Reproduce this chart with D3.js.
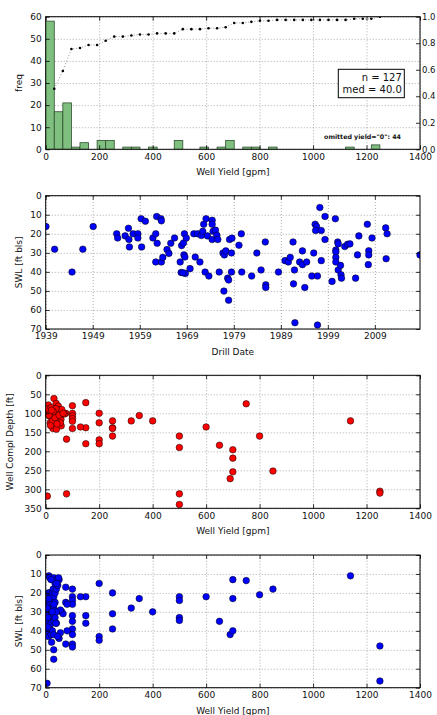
<!DOCTYPE html>
<html><head><meta charset="utf-8">
<script src="https://cdn.jsdelivr.net/npm/d3@7"></script>
<style>body{margin:0;background:#fff} text{font-family:"DejaVu Sans",sans-serif}</style>
</head><body><svg id="c" width="437" height="715"></svg>
<script>
// ---------- DATA ----------
const histCounts = [58,17,21,1,3,0,4,4,0,1,1,0,1,0,0,4,0,0,1,0,1,4,0,1,1,0,1,0,0,0,0,0,0,0,0,1,0,0,2];
const histRange = [0, 1250];
const cdfValues = [0.457,0.591,0.756,0.764,0.787,0.787,0.819,0.850,0.850,0.858,0.866,0.866,0.874,0.874,0.874,0.906,0.906,0.906,0.913,0.913,0.921,0.953,0.953,0.961,0.969,0.969,0.976,0.976,0.976,0.976,0.976,0.976,0.976,0.976,0.976,0.984,0.984,0.984,1.0];
const nWells = 127, medYield = "40.0", omittedZero = 44;

const drillYear = [1939.05,1940.9,1944.6,1946.9,1949.1,1954.1,1954.3,1955.9,1956.6,1956.7,1956.8,1957.6,1958.6,1958.6,1959.3,1959.4,1960.2,1961.8,1962.4,1962.6,1962.4,1962.7,1963.5,1963.6,1963.6,1963.9,1964.8,1965.2,1965.6,1966.4,1967.6,1967.8,1967.9,1968.3,1968.5,1968.4,1968.6,1968.7,1968.2,1968.9,1969.7,1970.8,1970.5,1971.3,1971.8,1972.1,1972.4,1972.6,1972.9,1973.1,1973.4,1973.7,1974.4,1974.4,1974.6,1974.4,1975.1,1975.4,1975.6,1975.9,1976.7,1976.9,1977.0,1977.3,1977.7,1977.9,1977.9,1978.1,1978.6,1978.5,1978.5,1980.1,1980.6,1980.7,1982.8,1983.9,1984.8,1985.7,1985.8,1985.8,1988.5,1989.9,1990.6,1991.0,1991.6,1991.7,1991.9,1992.0,1993.0,1993.6,1993.6,1994.1,1994.5,1995.6,1996.0,1996.3,1996.6,1996.4,1996.8,1996.8,1997.3,1997.6,1997.6,1998.4,1998.4,1999.9,2000.6,2000.7,2000.7,2000.7,2000.7,2001.1,2001.2,2001.2,2001.7,2001.8,2001.9,2002.6,2003.2,2003.7,2004.9,2005.3,2005.6,2007.4,2007.6,2007.7,2007.7,2008.4,2011.3,2011.6,2011.4,2018.6];
const drillSWL = [16.2,28.1,40.1,28.1,16.2,20,22.2,21.1,17.1,23,26.9,20,20,22.2,12.1,26.9,13.4,22.2,20,10.9,34.8,25,12.1,13.2,34.8,32.4,28.3,30.3,25,22.2,34.8,40.3,26.2,24.8,20,31.1,32.2,40.8,40.5,22.2,38.3,32.2,20,20,34.8,20.9,18.7,15,40.1,12.1,21.1,42.2,12.9,15,18.7,23,18.1,20.8,23,40.1,30.1,50.1,31.1,29,43.3,44.3,54.9,23,22.3,30.1,40.1,26,20,40.1,42.2,30.1,39,24.3,46.8,48.2,40.1,34.1,34.8,32.4,24.3,46.3,39,66.7,34.8,29,36.2,48.2,34.8,42.2,30.1,15,16.2,18.3,42.2,67.9,6.2,18.3,34.1,10.9,23,45,12.1,28.5,29.5,32.4,34.8,24.3,25.3,39,36.6,41.5,43.3,26.7,25.5,25.3,43.3,31.1,21.1,15,36.2,28.9,31.1,22.2,16.9,20,33.1,31.1];

const depthYield = [6,78,78,150,150,150,130,100,100,100,100,100,100,75,200,200,200,200,250,250,250,250,320,350,400,500,500,500,500,600,650,690,700,700,700,750,800,850,1140,1250,1250,
  31,10,14,10,20,39,47,33,53,24,39,29,17,33,57,60,70,58,27,40,5,5,8,15,20,25,30,35,45,50,55,18,42,60,65,38,28,12,22];
const complDepth = [318,312,168,72,138,180,136,80,100,107,114,121,140,100,100,125,170,180,120,138,140,160,120,106,120,160,190,312,340,136,184,272,196,218,254,75,160,252,120,305,310,
  61,78,94,100,98,74,81,91,91,109,104,118,125,125,116,98,102,133,140,142,95,100,88,108,85,120,100,112,95,105,125,132,128,90,100,88,95,105,92];

const swlYield = [200,200,200,250,250,250,320,350,400,500,500,500,500,600,650,690,700,700,700,750,800,850,1140,1250,1250,150,150,150,130,100,100,100,100,100,100,100,100,100,100,75,75,80,80,75,60,65,55,55,50,5,
  10,10,10,10,10,10,12,15,15,15,15,15,18,20,20,20,22,25,25,25,25,28,30,30,30,30,30,30,30,35,35,35,35,40,40,40,40,45,45,50,20,6,8,8,12,24,31,38,48,41];
const swlValue = [15,43,45,20,31,39,28,23,30,22,24,33,34.5,22,35,42,13,23,40,13.5,21,18,11,48,66.5,22,32,36,22,18,22,24,26,32,35,39,42,47,48.5,17,25,26,40,47,30,31,29,41,44,67.7,
  20,25,31,35,40,43,11,12,20,26,33,38,22,29,36,42,46,20,25,31,40,18,12,22,28,35,42,50,55,15,20,25,33,13,18,30,36,16,43,13,13,28,33,38,23,30,26,36,12,15];

const yieldTicks = [0,200,400,600,800,1000,1200,1400];
const freqTicks = [0,10,20,30,40,50,60];
const fracTicks = [0,0.2,0.4,0.6,0.8,1.0];
const yearTicks = [1939,1949,1959,1969,1979,1989,1999,2009];
const swlTicks = [0,10,20,30,40,50,60,70];
const depthTicks = [0,50,100,150,200,250,300,350];

// ---------- LAYOUT ----------
const svg = d3.select("#c");
const L = 45.7, R = 420;
const FS = 9;
const panels = [[16.7,149.3],[195.7,329],[375.3,508.3],[555,687.7]];

function setupPanel(i, x, y, xTickVals, yTickVals, xFmt, yFmt, xLabel, yLabel, yLabelX, rightAxis) {
  const [top, bottom] = panels[i];
  const g = svg.append("g");
  // grid
  const gx = g.append("g").attr("transform", `translate(0,${bottom})`)
    .call(d3.axisBottom(x).tickValues(xTickVals).tickSize(-(bottom-top)).tickFormat(""));
  const gy = g.append("g").attr("transform", `translate(${L},0)`)
    .call(d3.axisLeft(y).tickValues(yTickVals).tickSize(-(R-L)).tickFormat(""));
  [gx, gy].forEach(s => {
    s.select(".domain").remove();
    s.selectAll("line").attr("stroke", "#8a8a8a").attr("stroke-dasharray", "1,2").attr("stroke-width", 0.7);
  });
  // clip
  const cid = "clip" + i;
  svg.append("clipPath").attr("id", cid).append("rect")
    .attr("x", L).attr("y", top).attr("width", R-L).attr("height", bottom-top);
  const marks = svg.append("g").attr("clip-path", `url(#${cid})`);
  return {g, marks, top, bottom, finish: () => {
    const f = svg.append("g");
    f.append("rect").attr("x", L).attr("y", top).attr("width", R-L).attr("height", bottom-top)
      .attr("fill", "none").attr("stroke", "#000").attr("stroke-width", 1);
    const style = s => { s.select(".domain").remove(); s.selectAll("line").attr("stroke","#000").attr("stroke-width",0.8);
      s.attr("font-family", "DejaVu Sans").attr("font-size", FS); s.selectAll("text").attr("fill","#111"); };
    f.append("g").attr("transform", `translate(0,${bottom})`)
      .call(d3.axisBottom(x).tickValues(xTickVals).tickSizeInner(-4).tickSizeOuter(0).tickPadding(4).tickFormat(xFmt)).call(style);
    f.append("g").attr("transform", `translate(0,${top})`)
      .call(d3.axisTop(x).tickValues(xTickVals).tickSizeInner(-4).tickSizeOuter(0).tickFormat("")).call(style);
    f.append("g").attr("transform", `translate(${L},0)`)
      .call(d3.axisLeft(y).tickValues(yTickVals).tickSizeInner(-4).tickSizeOuter(0).tickPadding(4).tickFormat(yFmt)).call(style);
    if (!rightAxis) {
      f.append("g").attr("transform", `translate(${R},0)`)
        .call(d3.axisRight(y).tickValues(yTickVals).tickSizeInner(-4).tickSizeOuter(0).tickFormat("")).call(style);
    } else {
      f.append("g").attr("transform", `translate(${R},0)`)
        .call(d3.axisRight(rightAxis.scale).tickValues(rightAxis.ticks).tickSizeInner(-4).tickSizeOuter(0).tickPadding(2).tickFormat(rightAxis.fmt)).call(style)
        .attr("font-size", 8.5);
    }
    f.append("text").attr("x", (L+R)/2).attr("y", bottom + 26).attr("text-anchor", "middle")
      .attr("font-size", FS).attr("fill", "#111").text(xLabel);
    f.append("text").attr("transform", `translate(${yLabelX},${(top+bottom)/2}) rotate(-90)`)
      .attr("text-anchor", "middle").attr("font-size", FS).attr("fill", "#111").text(yLabel);
  }};
}

// ---------- PANEL 1: histogram + CDF ----------
const xYield = d3.scaleLinear().domain([0, 1400]).range([L, R]);
{
  const [top, bottom] = panels[0];
  const yF = d3.scaleLinear().domain([0, 60]).range([bottom, top]);
  const yC = d3.scaleLinear().domain([0, 1]).range([bottom, top]);
  const p = setupPanel(0, xYield, yF, yieldTicks, freqTicks, d3.format("d"), d3.format("d"),
    "Well Yield [gpm]", "freq", 22, {scale: yC, ticks: fracTicks, fmt: d3.format(".1f")});
  const bw = (histRange[1] - histRange[0]) / histCounts.length;
  const bins = histCounts.map((c, i) => ({x0: histRange[0] + i*bw, x1: histRange[0] + (i+1)*bw, c}));
  p.marks.selectAll("rect.bar").data(bins.filter(d => d.c > 0)).join("rect")
    .attr("x", d => xYield(d.x0)).attr("width", d => xYield(d.x1) - xYield(d.x0))
    .attr("y", d => yF(d.c)).attr("height", d => yF(0) - yF(d.c))
    .attr("fill", "#7fbf7f").attr("stroke", "#2f4f2f").attr("stroke-width", 0.8);
  const cdfPts = cdfValues.map((v, i) => [bins[i].x1, v]);
  p.marks.append("path").datum(cdfPts)
    .attr("d", d3.line().x(d => xYield(d[0])).y(d => yC(d[1])))
    .attr("fill", "none").attr("stroke", "#777").attr("stroke-width", 0.8).attr("stroke-dasharray", "1,2");
  p.marks.selectAll("circle.cdf").data(cdfPts).join("circle")
    .attr("cx", d => xYield(d[0])).attr("cy", d => yC(d[1])).attr("r", 1.3).attr("fill", "#000");
  p.finish();
  // stats box
  const bx = 338.3, by = 69.3, bwid = 66, bh = 28.4;
  svg.append("rect").attr("x", bx).attr("y", by).attr("width", bwid).attr("height", bh)
    .attr("fill", "#fff").attr("stroke", "#000").attr("stroke-width", 1);
  svg.append("text").attr("x", bx + bwid - 2.5).attr("y", by + 11.5).attr("text-anchor", "end")
    .attr("font-size", 10).attr("fill", "#111").text(`n = ${nWells}`);
  svg.append("text").attr("x", bx + bwid - 2.5).attr("y", by + 23.5).attr("text-anchor", "end")
    .attr("font-size", 10).attr("fill", "#111").text(`med = ${medYield}`);
  svg.append("text").attr("x", 401).attr("y", 139).attr("text-anchor", "end")
    .attr("font-size", 6.3).attr("font-weight", "bold").attr("fill", "#111")
    .text(`omitted yield="0": ${omittedZero}`);
}

// ---------- PANEL 2: SWL vs drill date ----------
{
  const [top, bottom] = panels[1];
  const x = d3.scaleLinear().domain([1939.0, 2018.6]).range([L, R]);
  const y = d3.scaleLinear().domain([0, 70]).range([top, bottom]);
  const p = setupPanel(1, x, y, yearTicks, swlTicks, d3.format("d"), d3.format("d"),
    "Drill Date", "SWL [ft bls]", 22);
  p.marks.selectAll("circle").data(drillYear.map((d, i) => [d, drillSWL[i]])).join("circle")
    .attr("cx", d => x(d[0])).attr("cy", d => y(d[1])).attr("r", 3.3)
    .attr("fill", "#0000ff").attr("stroke", "#000").attr("stroke-width", 0.5);
  p.finish();
}

// ---------- PANEL 3: completion depth vs yield ----------
{
  const [top, bottom] = panels[2];
  const y = d3.scaleLinear().domain([0, 350]).range([top, bottom]);
  const p = setupPanel(2, xYield, y, yieldTicks, depthTicks, d3.format("d"), d3.format("d"),
    "Well Yield [gpm]", "Well Compl Depth [ft]", 12.5);
  p.marks.selectAll("circle").data(depthYield.map((d, i) => [d, complDepth[i]])).join("circle")
    .attr("cx", d => xYield(d[0])).attr("cy", d => y(d[1])).attr("r", 3.3)
    .attr("fill", "#ff0000").attr("stroke", "#000").attr("stroke-width", 0.5);
  p.finish();
}

// ---------- PANEL 4: SWL vs yield ----------
{
  const [top, bottom] = panels[3];
  const y = d3.scaleLinear().domain([0, 70]).range([top, bottom]);
  const p = setupPanel(3, xYield, y, yieldTicks, swlTicks, d3.format("d"), d3.format("d"),
    "Well Yield [gpm]", "SWL [ft bls]", 22);
  p.marks.selectAll("circle").data(swlYield.map((d, i) => [d, swlValue[i]])).join("circle")
    .attr("cx", d => xYield(d[0])).attr("cy", d => y(d[1])).attr("r", 3.3)
    .attr("fill", "#0000ff").attr("stroke", "#000").attr("stroke-width", 0.5);
  p.finish();
}
</script></body></html>
